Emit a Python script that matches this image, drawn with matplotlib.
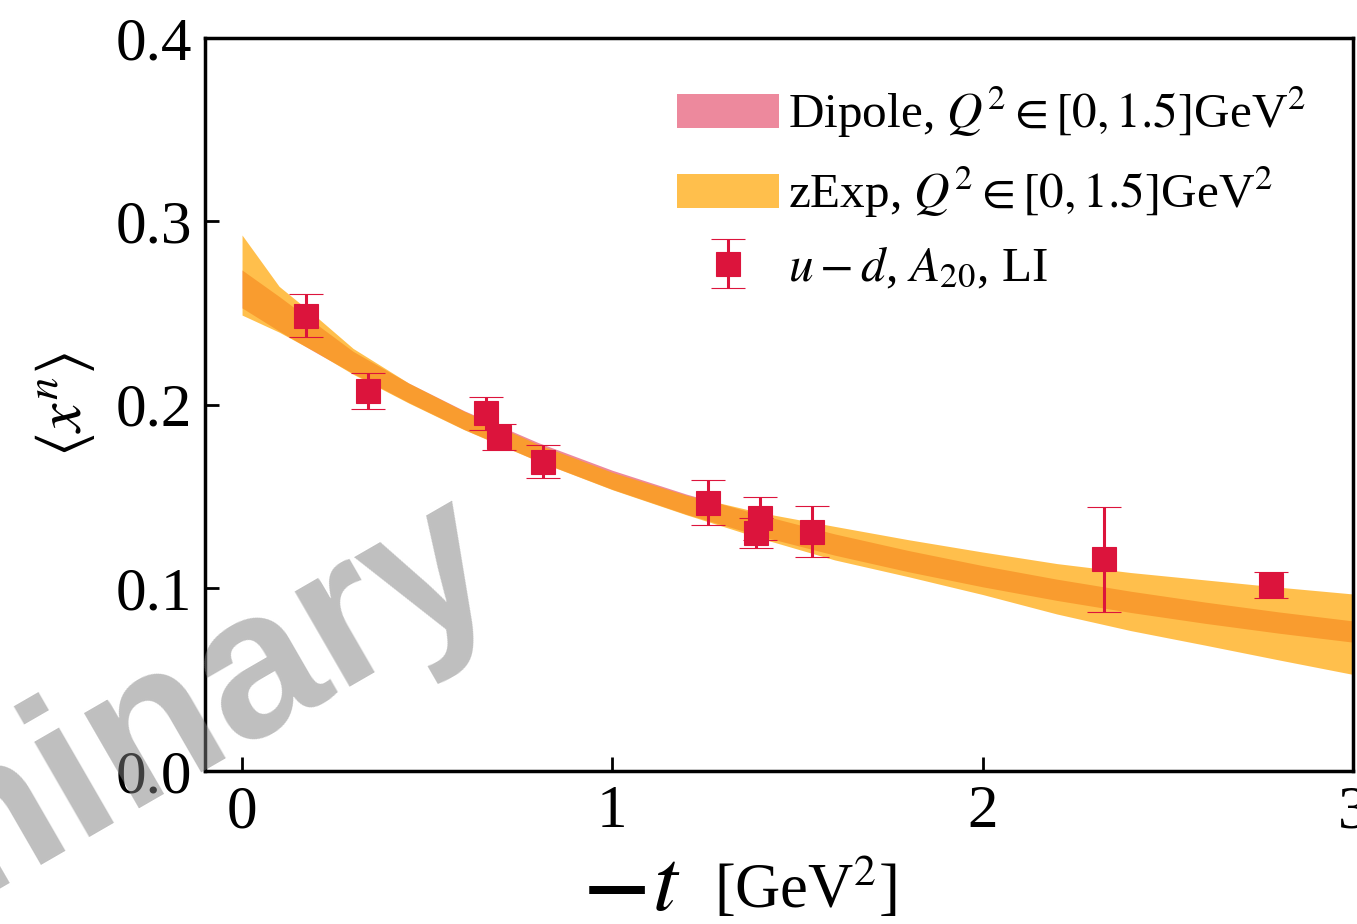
import matplotlib
matplotlib.use("Agg")
import matplotlib.pyplot as plt
from matplotlib.patches import Patch
import numpy as np

plt.rcParams['font.family'] = ['Liberation Serif', 'DejaVu Serif']
plt.rcParams['mathtext.fontset'] = 'stix'

# ---- data ----
t_band = [0.0, 0.1, 0.2, 0.3, 0.45, 0.6, 0.8, 1.0, 1.2, 1.4, 1.6, 1.8, 2.0, 2.2, 2.4, 2.6, 2.8, 3.0]
dip_lo = [0.2527, 0.2401, 0.2283, 0.2170, 0.2011, 0.1864, 0.1691, 0.1537, 0.1401, 0.1282,
          0.1178, 0.1087, 0.1005, 0.0931, 0.0865, 0.0806, 0.0752, 0.0703]
dip_hi = [0.2734, 0.2590, 0.2440, 0.2290, 0.2117, 0.1966, 0.1792, 0.1641, 0.1511, 0.1398,
          0.1294, 0.1203, 0.1121, 0.1047, 0.0981, 0.0922, 0.0868, 0.0819]
zexp_lo = [0.2488, 0.2395, 0.2285, 0.2165, 0.2008, 0.1862, 0.1690, 0.1535, 0.1398, 0.1270,
           0.1152, 0.1060, 0.0963, 0.0857, 0.0766, 0.0687, 0.0606, 0.0527]
zexp_hi = [0.2925, 0.2645, 0.2480, 0.2306, 0.2117, 0.1963, 0.1782, 0.1630, 0.1505, 0.1410,
           0.1335, 0.1262, 0.1195, 0.1132, 0.1083, 0.1043, 0.1003, 0.0966]

t_pts = [0.172, 0.339, 0.659, 0.695, 0.814, 1.257, 1.400, 1.389, 1.540, 2.328, 2.779]
y_pts = [0.2485, 0.2074, 0.1952, 0.1824, 0.1688, 0.1463, 0.1379, 0.1299, 0.1306, 0.1155, 0.1015]
y_err = [0.0117, 0.0098, 0.0089, 0.0070, 0.0090, 0.0123, 0.0118, 0.0083, 0.0140, 0.0287, 0.0071]

xticks = [0, 1, 2, 3]
yticks = [0.0, 0.1, 0.2, 0.3, 0.4]

lab_dip = r"Dipole, $Q^2\in[0,1.5]$GeV$^2$"
lab_zexp = r"zExp, $Q^2\in[0,1.5]$GeV$^2$"
lab_pts = r"$u-d$, $A_{20}$, LI"

# ---- figure ----
fig = plt.figure(figsize=(13.57, 9.24), dpi=100)
ax = fig.add_axes([205/1357, 1-771/924, (1353-205)/1357, (771-38)/924])

ax.fill_between(t_band, dip_lo, dip_hi, color='crimson', alpha=0.5, lw=0, zorder=1)
ax.fill_between(t_band, zexp_lo, zexp_hi, color='orange', alpha=0.7, lw=0, zorder=2)
eb = ax.errorbar(t_pts, y_pts, yerr=y_err, fmt='s', color='crimson', ms=17, mew=0.8,
                 capsize=12, capthick=3, elinewidth=2.2, zorder=5)

ax.set_xlim(-0.1, 3.0)
ax.set_ylim(0, 0.4)
ax.set_xticks(xticks)
ax.set_yticks(yticks)
ax.set_xticklabels([str(v) for v in xticks])
ax.set_yticklabels([f"{v:.1f}" for v in yticks])
ax.tick_params(direction='in', length=10, width=2, labelsize=44, pad=10)
ax.tick_params(axis='y', pad=9)
for s in ax.spines.values():
    s.set_linewidth(2.5)

ax.set_ylabel(r"$\langle x^n\rangle$", fontsize=46, labelpad=14)

# x label pieces
fig.text(617/1357, 1-889/924, "–", fontsize=78, fontweight='bold', ha='center', va='center',
         family='Liberation Serif')
fig.text(652/1357, 1-910/924, r"$t$", fontsize=64, ha='left', va='baseline')
fig.text(714/1357, 1-908/924, r"[GeV$^2$]", fontsize=45, ha='left', va='baseline')

handles = [Patch(facecolor='crimson', alpha=0.5, lw=0),
           Patch(facecolor='orange', alpha=0.7, lw=0), eb]
leg = ax.legend(handles, [lab_dip, lab_zexp, lab_pts], loc='upper right',
                bbox_to_anchor=(1.0, 1.0), frameon=False, fontsize=35.5,
                handlelength=2.07, handletextpad=0.18, labelspacing=0.5,
                borderpad=0.4, borderaxespad=0.55)

# watermark
fig.text(507/1357, 1-588/924, "Preliminary", rotation=30, rotation_mode='anchor',
         ha='right', va='baseline', fontsize=150, family='Liberation Sans',
         fontweight='bold', color='gray', alpha=0.5, zorder=10)

fig.savefig("out.png", dpi=100)
